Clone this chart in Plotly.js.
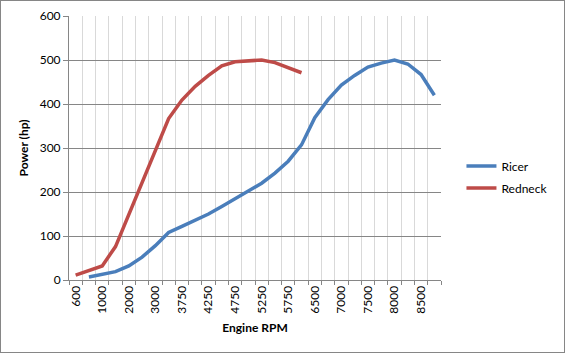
<!DOCTYPE html>
<html>
<head>
<meta charset="utf-8">
<script src="https://cdn.plot.ly/plotly-3.0.1.min.js"></script>
<style>
html,body{margin:0;padding:0;background:#fff;}
#frame{width:563px;height:351px;border:1px solid #868686;}
#chart{width:563px;height:351px;}
</style>
</head>
<body>
<div id="frame"><div id="chart"></div></div>
<script>
const categories = ["600","800","1000","1500","2000","2500","3000","3500","3750","4000","4250","4500","4750","5000","5250","5500","5750","6000","6500","6750","7000","7250","7500","7750","8000","8250","8500","8750"];
const tickLabels = ["600","1000","2000","3000","3750","4250","4750","5250","5750","6500","7000","7500","8000","8500"];
const ricer = [null,7,13,19,32,52,78,108,122,135,150,167,185,203,220,243,270,307,369,410,443,465,484,493,500,491,467,420];
const redneck = [11,21,32,76,149,222,295,367,409,440,465,487,496,499,500,494,483,471];

const FONT = "Lato, 'Open Sans', sans-serif";
const tickText = categories.map(c => tickLabels.includes(c) ? c : "");

const data = [
  {x: categories.slice(0, ricer.length), y: ricer, name: "Ricer", type: "scatter", mode: "lines",
   line: {color: "#4a7ebb", width: 3.5}, legendgroup: "a", connectgaps: false},
  {x: categories.slice(0, redneck.length), y: redneck, name: "Redneck", type: "scatter", mode: "lines",
   line: {color: "#be4b48", width: 3.5}, legendgroup: "b"}
];

const layout = {
  width: 563, height: 351,
  margin: {l: 68, r: 109, t: 15, b: 72},
  paper_bgcolor: "#fff", plot_bgcolor: "#fff",
  font: {family: FONT, size: 12, color: "#000"},
  showlegend: true,
  legend: {x: 1.055, y: 0.39, xanchor: "left", yanchor: "middle", tracegroupgap: 3,
           font: {family: FONT, size: 12}, itemwidth: 30, bgcolor: "rgba(0,0,0,0)"},
  xaxis: {
    type: "category", categoryorder: "array", categoryarray: categories,
    range: [-0.5, categories.length - 0.5],
    tickmode: "array", tickvals: categories, ticktext: tickText,
    tickson: "boundaries", ticks: "outside", ticklen: 4, tickcolor: "#868686",
    tickangle: -90, tickfont: {family: FONT, size: 12},
    showgrid: true, gridcolor: "#d9d9d9", gridwidth: 1,
    showline: true, linecolor: "#868686", linewidth: 1, mirror: false,
    zeroline: false,
    title: {text: "<b>Engine RPM</b>", font: {family: FONT, size: 12}, standoff: 10}
  },
  yaxis: {
    range: [0, 600], tickvals: [0,100,200,300,400,500,600],
    ticks: "outside", ticklen: 5, tickcolor: "#868686",
    tickfont: {family: FONT, size: 12},
    showgrid: true, gridcolor: "#868686", gridwidth: 1,
    showline: true, linecolor: "#868686", linewidth: 1,
    zeroline: false,
    title: {text: "<b>Power (hp)</b>", font: {family: FONT, size: 12}, standoff: 8}
  }
};

Plotly.newPlot("chart", data, layout, {displayModeBar: false, staticPlot: true});
</script>
</body>
</html>
